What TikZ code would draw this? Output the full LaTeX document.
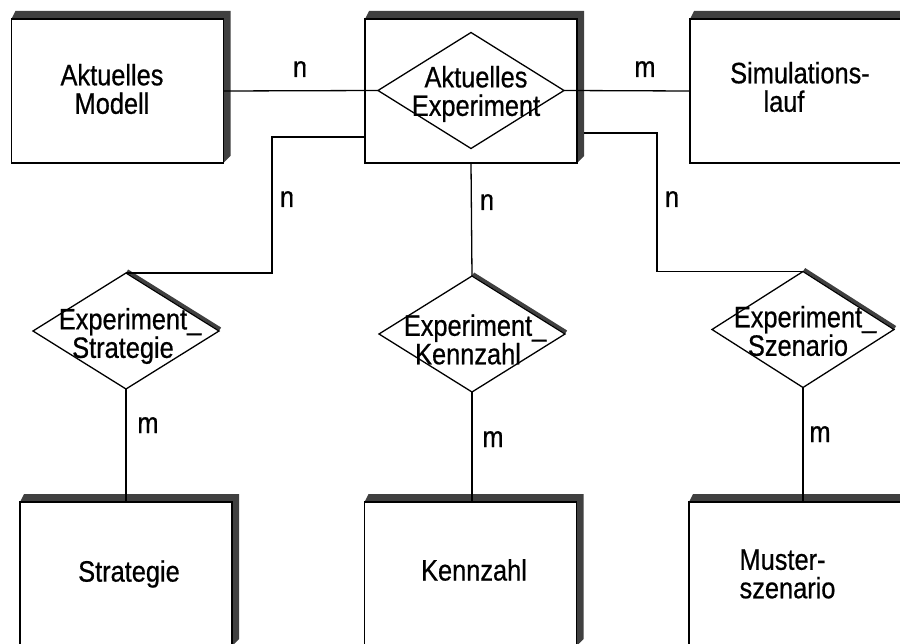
\documentclass[tikz,border=0pt]{standalone}
\usepackage{fontspec}
\setmainfont{Liberation Sans}[FakeStretch=0.86, FakeBold=0.6]
\usetikzlibrary{shapes.geometric,calc,backgrounds}
\begin{document}
\begin{tikzpicture}[x=1pt,y=-1pt,
  shadowc/.style={fill=black!75},
  shadowline/.style={draw=black!75, line width=3.5pt},
  entity/.style={draw=black, fill=white, line width=1.4pt, rectangle,
    inner sep=0pt, outer sep=0pt, minimum width=212pt, minimum height=144pt},
  rel/.style={draw=black, fill=white, line width=1.3pt, diamond,
    inner sep=0pt, outer sep=0pt, minimum width=186pt, minimum height=116pt},
  big/.style={font=\fontsize{29.5}{28.5}\selectfont, align=center},
  small/.style={font=\fontsize{29.5}{23}\selectfont, align=center},
  card/.style={font=\fontsize{29.5}{28}\selectfont, anchor=base, inner sep=0pt},
  conn/.style={draw=black, line width=1.3pt}
]
\useasboundingbox (0,0) rectangle (900,644);
\clip (0,0) rectangle (900,644);

% entity types
\node[entity, label={[big, xshift=-5.5pt, yshift=2pt]center:{Aktuelles\\Modell}}] (modell) at (117.5,91) {};
\node[entity] (exp) at (471,91) {};
\node[entity, label={[big, xshift=4pt, yshift=4pt]center:{Simulations-\\\hspace*{-32pt}lauf}}] (sim) at (796,91) {};
\node[entity, label={[big, xshift=3pt]center:{Strategie}}] (strat) at (126,574) {};
\node[entity, label={[big, xshift=3.5pt, yshift=4pt]center:{Kennzahl}}] (kenn) at (470.5,574) {};
\node[entity, label={[big, align=left, xshift=-7.5pt]center:{Muster-\\szenario}}] (muster) at (795,574) {};

% relationship types
\node[rel, label={[big, xshift=5pt, yshift=-3.5pt]center:{Aktuelles\\Experiment}}] (dexp) at (471,90.5) {};
\node[rel, label={[small, xshift=-3pt, yshift=-5pt]center:{Experiment\rlap{\_}\\Strategie}}] (dstrat) at (126,331) {};
\node[rel, label={[small, xshift=-4pt, yshift=-5.5pt]center:{Experiment\rlap{\_}\\Kennzahl}}] (dkenn) at (472,334) {};
\node[rel, minimum width=182pt, label={[small, xshift=-5pt, yshift=-1.5pt]center:{Experiment\rlap{\_}\\Szenario}}] (dszen) at (803,329.5) {};

% raised edges behind boxes and diamonds
\begin{scope}[on background layer]
  \clip (0,0) rectangle (900,644);
  \fill[white] (0,0) rectangle (900,644);
  \foreach \bx in {modell,exp,sim,strat,kenn,muster}
    \fill[shadowc] (\bx.north west) -- ++(4,-8) -- ($(\bx.north east)+(7,-8)$)
      -- ($(\bx.south east)+(7,-7)$) -- (\bx.south east) -- (\bx.north east) -- cycle;
  \foreach \dx in {dstrat,dkenn,dszen}
    \draw[shadowline] ($(\dx.north)+(1.2,-2)$) -- ($(\dx.east)+(1.2,-2)$);
\end{scope}

% connector end points on the box sides
\coordinate (el) at (365,137);
\coordinate (kl) at (272,137);
\coordinate (er) at (584,133);
\coordinate (kr) at (657,133);

% connectors
\draw[conn] (modell.east) -- (dexp.west);
\draw[conn] (dexp.east) -- (sim.west);
\draw[conn] (el) -- (kl) |- (dstrat.north);
\draw[conn] (er) -- (kr) |- (dszen.north);
\draw[conn] (exp.south) -- (dkenn.north);
\draw[conn] (dstrat.south) -- (strat.north);
\draw[conn] (dkenn.south) -- (dkenn.south |- kenn.north);
\draw[conn] (dszen.south) -- (dszen.south |- muster.north);

% cardinalities
\node[card] (c1) at (300,77) {n};
\node[card] (c2) at (645,77) {m};
\node[card] (c3) at (287,207) {n};
\node[card] (c4) at (487,210) {n};
\node[card] (c5) at (672,207) {n};
\node[card] (c6) at (148,433) {m};
\node[card] (c7) at (493,447) {m};
\node[card] (c8) at (820,442) {m};
\end{tikzpicture}
\end{document}
